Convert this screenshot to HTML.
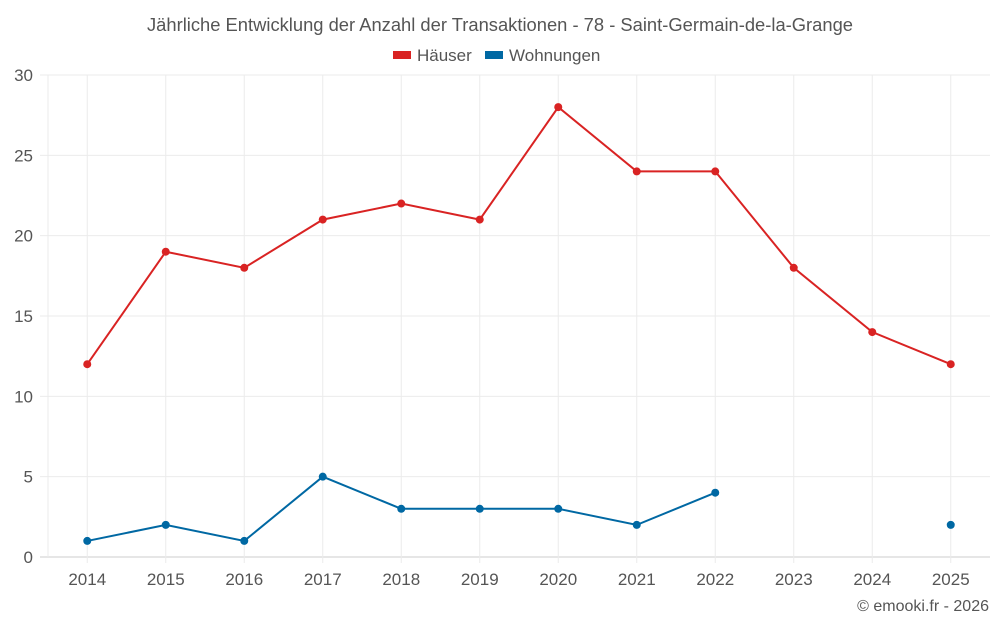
<!DOCTYPE html>
<html><head><meta charset="utf-8">
<style>
body{margin:0;background:#fff;font-family:"Liberation Sans",sans-serif;}
svg text{font-family:"Liberation Sans",sans-serif;}
</style></head>
<body>
<svg id="chart" width="1000" height="625" viewBox="0 0 1000 625">
<text x="147" y="31" textLength="706" lengthAdjust="spacingAndGlyphs" font-size="18" fill="#555">Jährliche Entwicklung der Anzahl der Transaktionen - 78 - Saint-Germain-de-la-Grange</text>
<g><rect x="393" y="51" width="18" height="8" fill="#d92323"/><text x="417" y="61" font-size="17" fill="#555">Häuser</text></g>
<g><rect x="485" y="51" width="18" height="8" fill="#0068a3"/><text x="509" y="61" font-size="17" fill="#555">Wohnungen</text></g>
<g id="grid"></g><g id="axes"></g><g id="series"></g>
<text x="989" y="611" text-anchor="end" font-size="16" fill="#555">© emooki.fr - 2026</text>
</svg>
<script>
const years=["2014","2015","2016","2017","2018","2019","2020","2021","2022","2023","2024","2025"];
const haeuser=[12,19,18,21,22,21,28,24,24,18,14,12];
const wohnungen=[1,2,1,5,3,3,3,2,4,null,null,2];
const yTicks=[0,5,10,15,20,25,30];
const NS="http://www.w3.org/2000/svg";
const x0=48,x1=990,y0=557,yTop=75,yMax=30;
const step=(x1-x0)/years.length;
const X=i=>x0+step*(i+0.5);
const Y=v=>y0-(y0-yTop)*v/yMax;
function mk(t,a,p){const e=document.createElementNS(NS,t);for(const k in a)e.setAttribute(k,a[k]);p.appendChild(e);return e;}
const grid=document.getElementById('grid'),axes=document.getElementById('axes'),ser=document.getElementById('series');
yTicks.forEach(v=>{
 const l=mk('line',{x1:40,x2:x1,y1:Y(v),y2:Y(v),stroke:v===0?'#ccc':'#ebebeb','stroke-width':1},grid);
 
 
 const t=mk('text',{x:33,y:Y(v)+6,'text-anchor':'end','font-size':17,fill:'#555'},axes);
 t.textContent=v;
 
 
});
mk('line',{x1:x0,x2:x0,y1:yTop,y2:y0,stroke:'#ebebeb'},grid);
years.forEach((y,i)=>{
 const l=mk('line',{x1:X(i),x2:X(i),y1:yTop,y2:y0+6,stroke:'#ebebeb'},grid);
 
 
 const t=mk('text',{x:X(i),y:585,'text-anchor':'middle','font-size':17,fill:'#555'},axes);
 t.textContent=y;
 
 
});
function draw(vals,color,name){
 let d='',pen=false;
 vals.forEach((v,i)=>{if(v==null){pen=false;return;}d+=(pen?'L':'M')+X(i)+' '+Y(v)+' ';pen=true;});
 const p=mk('path',{d:d,fill:'none',stroke:color,'stroke-width':2},ser);
 
 
 vals.forEach((v,i)=>{if(v==null)return;
  const c=mk('circle',{cx:X(i),cy:Y(v),r:4,fill:color},ser);
  
  
 });
}
draw(haeuser,'#d92323','haeuser');
draw(wohnungen,'#0068a3','wohnungen');
</script>
</body></html>
